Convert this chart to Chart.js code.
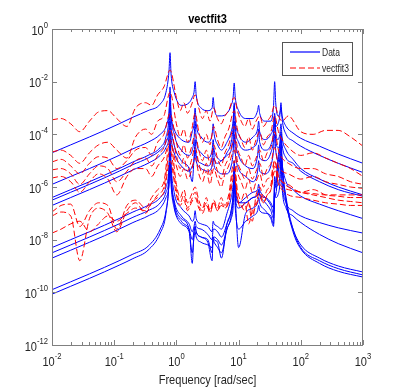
<!DOCTYPE html>
<html>
<head>
<meta charset="utf-8">
<script src="https://cdn.jsdelivr.net/npm/chart.js@4"></script>
<style>
  html, body { margin: 0; padding: 0; background: #fff; }
  canvas { display: block; }
</style>
</head>
<body>
<canvas id="c" width="402" height="388"></canvas>
<script>
// frequency grids (rad/sec), denser around the resonances
const freq = [0.01, 0.02, 0.04, 0.07, 0.12, 0.2, 0.35, 0.55, 0.68, 0.76,
  0.79, 0.82, 0.92, 1.2, 1.6, 1.8, 1.92, 2.0, 2.08, 2.5,
  3.2, 3.75, 3.9, 4.05, 4.6, 5.3, 6.5, 7.6, 8.16, 8.5,
  8.84, 10, 13, 17, 20.2, 21, 21.8, 27, 33, 36.5,
  38, 39.5, 43, 46, 48, 50, 58, 75, 100, 200,
  400, 1000];
const fitFreq = [0.01, 0.014, 0.02, 0.028, 0.04, 0.056, 0.079, 0.11, 0.16, 0.22,
  0.32, 0.4, 0.5, 0.63, 0.79,
  1.0, 1.15, 1.32, 1.51, 1.74, 2.0, 2.29, 2.63, 3.02, 3.47,
  3.98, 4.57, 5.25, 6.03, 6.92, 8.5, 9.55, 11.0, 12.6, 14.5,
  16.6, 19.1, 21.9, 25.1, 28.8, 33.1, 38, 43.7, 50.1,
  63, 100, 158, 251, 398, 631, 1000];

// Data curves, log10 of magnitude
const data1 = [-4.7, -4.4, -4.1, -3.85, -3.6, -3.35, -3.1, -2.85, -2.4, -1.6,
  -0.9, -1.7, -2.4, -2.9, -2.8, -2.6, -2.4, -2.0, -2.5, -3.0,
  -3.1, -3.0, -2.6, -3.0, -3.3, -3.3, -3.2, -2.9, -2.6, -2.05,
  -2.6, -3.1, -3.4, -3.4, -3.1, -2.9, -3.2, -3.5, -3.5, -2.9,
  -2.0, -2.8, -3.3, -3.2, -3.0, -3.3, -3.7, -3.95, -4.15, -4.45,
  -4.75, -5.1];
const data2 = [-5.9, -5.6, -5.3, -5.05, -4.8, -4.55, -4.3, -4.0, -3.7, -3.2,
  -2.7, -3.3, -3.8, -4.2, -4.3, -3.9, -3.6, -3.0, -3.6, -4.1,
  -4.3, -4.0, -3.6, -4.0, -4.4, -4.6, -4.3, -3.9, -3.5, -2.9,
  -3.5, -4.0, -4.3, -4.1, -3.8, -3.5, -3.9, -4.2, -4.0, -3.7,
  -3.3, -3.7, -3.6, -3.3, -2.8, -3.4, -4.0, -4.25, -4.45, -4.8,
  -5.1, -5.45];
const data3 = [-6.4, -6.1, -5.8, -5.55, -5.3, -5.05, -4.8, -4.5, -4.1, -3.3,
  -2.2, -3.2, -4.0, -4.6, -4.8, -4.6, -4.2, -3.5, -4.2, -4.7,
  -4.9, -4.6, -4.2, -4.6, -4.9, -5.0, -4.7, -4.3, -3.7, -2.8,
  -3.7, -4.3, -4.6, -4.5, -4.2, -3.8, -4.3, -4.6, -4.4, -3.9,
  -3.2, -3.9, -4.2, -4.0, -3.6, -4.1, -4.6, -4.95, -5.3, -5.7,
  -6.0, -6.3];
const data4 = [-6.5, -6.2, -5.9, -5.65, -5.4, -5.15, -4.9, -4.6, -4.3, -3.8,
  -3.0, -3.7, -4.4, -5.0, -5.3, -5.8, -4.9, -4.2, -4.8, -5.1,
  -5.2, -4.9, -4.5, -4.9, -5.1, -5.0, -4.8, -4.6, -4.2, -3.5,
  -4.2, -4.8, -5.2, -5.3, -4.8, -4.4, -4.9, -5.0, -4.7, -4.2,
  -3.6, -4.2, -4.5, -4.4, -3.9, -4.4, -4.9, -5.1, -5.4, -5.8,
  -6.1, -6.35];
const data5 = [-6.7, -6.4, -6.1, -5.85, -5.6, -5.35, -5.1, -4.8, -4.5, -4.1,
  -3.5, -4.1, -4.7, -5.2, -5.4, -5.2, -5.0, -4.6, -5.0, -5.3,
  -5.4, -5.2, -4.9, -5.2, -5.4, -5.5, -5.5, -5.2, -4.7, -4.0,
  -4.7, -5.3, -5.6, -5.8, -5.4, -5.0, -5.4, -5.5, -5.2, -4.6,
  -4.0, -4.6, -5.0, -5.0, -4.6, -5.1, -5.8, -6.1, -6.35, -6.65,
  -6.9, -7.2];
const data6 = [-8.3, -8.0, -7.7, -7.45, -7.2, -6.95, -6.7, -6.4, -6.0, -5.2,
  -3.9, -5.1, -6.2, -6.8, -7.1, -7.3, -7.2, -6.9, -7.2, -7.4,
  -7.5, -7.7, -7.3, -7.4, -7.5, -7.6, -7.0, -6.4, -5.9, -5.0,
  -5.9, -6.6, -6.6, -6.4, -6.3, -6.1, -6.3, -6.4, -6.6, -6.8,
  -5.6, -6.0, -5.9, -5.6, -4.8, -5.8, -6.6, -6.9, -7.1, -7.35,
  -7.55, -7.75];
const data7 = [-8.5, -8.2, -7.9, -7.65, -7.4, -7.15, -6.9, -6.6, -6.2, -5.6,
  -4.6, -5.6, -6.6, -7.2, -7.6, -8.9, -7.7, -7.5, -7.7, -7.9,
  -8.0, -8.5, -7.9, -8.0, -8.1, -8.7, -7.4, -6.9, -6.3, -5.6,
  -6.4, -8.3, -7.0, -6.8, -6.6, -6.4, -6.6, -6.9, -7.2, -7.5,
  -6.2, -6.4, -6.3, -5.9, -5.0, -6.0, -6.8, -7.1, -7.35, -7.8,
  -8.15, -8.5];
const data8 = [-8.7, -8.4, -8.1, -7.85, -7.6, -7.35, -7.1, -6.8, -6.4, -5.9,
  -5.0, -5.9, -6.8, -7.4, -7.7, -8.5, -7.9, -7.7, -7.9, -8.1,
  -8.2, -8.3, -8.0, -8.1, -8.3, -8.5, -7.6, -7.2, -6.8, -5.9,
  -6.8, -7.6, -7.3, -7.1, -6.9, -6.7, -6.9, -7.0, -7.1, -7.4,
  -6.4, -6.3, -5.5, -4.9, -4.4, -5.3, -6.6, -7.6, -8.2, -8.7,
  -9.0, -9.23];
const data9 = [-9.9, -9.6, -9.3, -9.05, -8.8, -8.55, -8.25, -7.6, -6.9, -5.8,
  -4.5, -5.6, -6.7, -7.3, -7.6, -8.0, -7.7, -7.5, -7.7, -7.9,
  -8.1, -8.8, -7.9, -7.9, -8.0, -8.2, -7.6, -7.1, -6.5, -5.6,
  -6.4, -6.8, -6.6, -6.4, -6.3, -6.1, -6.3, -6.6, -6.9, -7.2,
  -6.1, -6.0, -5.1, -4.6, -4.2, -5.1, -6.4, -7.6, -8.3, -8.8,
  -9.1, -9.34];
const data10 = [-10.07, -9.77, -9.47, -9.22, -8.97, -8.72, -8.4, -7.75, -7.0, -5.7,
  -4.3, -5.5, -6.5, -7.1, -7.4, -7.7, -7.5, -7.3, -7.5, -7.6,
  -7.8, -8.0, -7.6, -7.6, -7.7, -7.9, -7.4, -6.9, -6.3, -5.3,
  -6.2, -6.6, -6.4, -6.2, -6.1, -5.9, -6.1, -6.4, -6.7, -7.0,
  -5.9, -5.8, -4.9, -4.4, -4.0, -5.0, -6.5, -7.7, -8.35, -8.9,
  -9.2, -9.42];

// vectfit3 curves, log10 of magnitude
const fit1 = [-3.45, -3.4, -3.6, -3.9, -3.5, -3.15, -3.1, -3.4, -3.7, -3.0,
  -2.8, -2.9, -2.5, -2.2, -1.56,
  -2.6, -3.1, -2.8, -3.2, -2.9, -2.5, -3.0, -3.4, -3.1, -3.5,
  -3.0, -3.4, -3.6, -3.3, -3.1, -2.6, -3.1, -3.5, -3.7, -3.4,
  -3.8, -3.5, -3.3, -3.7, -3.5, -3.3, -2.9, -3.3, -3.5,
  -3.3, -3.9, -4.0, -3.85, -3.85, -4.1, -4.45];
const fit2 = [-4.67, -4.6, -4.8, -5.1, -4.7, -4.4, -4.3, -4.6, -4.9, -4.1,
  -3.8, -4.0, -3.5, -3.3, -2.4,
  -3.6, -4.1, -3.8, -4.3, -3.9, -3.2, -3.9, -4.3, -4.0, -4.4,
  -3.7, -4.2, -4.5, -4.1, -3.8, -3.1, -3.8, -4.2, -4.5, -4.1,
  -4.6, -4.2, -3.9, -4.4, -4.1, -3.9, -3.3, -3.9, -4.2,
  -4.5, -4.8, -4.7, -4.9, -5.1, -5.3, -5.6];
const fit3 = [-5.05, -4.95, -5.2, -5.5, -5.1, -4.85, -4.9, -5.3, -5.0, -4.6,
  -4.5, -4.8, -4.3, -4.0, -3.2,
  -4.3, -4.8, -4.4, -4.9, -4.5, -4.0, -4.6, -5.0, -4.6, -5.1,
  -4.4, -4.9, -5.2, -4.7, -4.4, -3.7, -4.5, -4.9, -5.2, -4.8,
  -5.2, -4.9, -4.6, -5.0, -4.7, -4.5, -3.9, -4.6, -4.9,
  -5.1, -5.3, -5.3, -5.5, -5.6, -5.8, -5.9];
const fit4 = [-5.35, -5.3, -5.5, -5.9, -5.5, -5.2, -5.3, -5.8, -5.4, -5.0,
  -4.9, -5.2, -4.8, -4.5, -3.8,
  -4.8, -5.3, -4.9, -5.4, -5.0, -4.5, -5.1, -5.5, -5.1, -5.6,
  -4.9, -5.4, -5.7, -5.2, -4.9, -4.2, -5.0, -5.4, -5.7, -5.3,
  -5.7, -5.4, -5.1, -5.6, -5.3, -5.1, -4.5, -5.2, -5.4,
  -5.5, -5.7, -5.6, -5.8, -5.9, -6.0, -6.05];
const fit5 = [-5.66, -5.6, -5.8, -6.2, -5.8, -5.5, -5.7, -6.3, -5.6, -5.3,
  -5.3, -5.6, -5.2, -4.9, -4.3,
  -5.2, -5.6, -5.3, -5.7, -5.4, -4.9, -5.5, -5.8, -5.4, -5.9,
  -5.3, -5.7, -6.0, -5.5, -5.2, -4.6, -5.4, -5.8, -6.1, -5.7,
  -6.2, -5.8, -5.5, -6.0, -5.7, -5.6, -5.0, -5.6, -5.8,
  -5.9, -6.2, -6.1, -6.3, -6.35, -6.4, -6.4];
const fit6 = [-6.95, -6.7, -6.65, -7.5, -6.9, -6.6, -6.7, -7.6, -6.7, -6.5,
  -6.8, -6.4, -6.1, -5.8, -4.2,
  -5.9, -6.4, -6.1, -6.6, -6.3, -6.0, -6.5, -6.8, -6.4, -6.9,
  -6.5, -6.8, -6.4, -6.7, -6.3, -5.0, -6.1, -6.5, -6.2, -6.6,
  -7.3, -6.3, -6.0, -6.4, -6.1, -5.9, -5.0, -5.6, -5.8,
  -6.0, -6.2, -6.3, -6.4, -6.5, -6.55, -6.6];
const fit7 = [-7.1, -6.95, -7.1, -8.8, -7.2, -6.8, -7.0, -7.7, -6.9, -6.6,
  -7.0, -6.6, -6.3, -6.0, -4.6,
  -6.1, -6.6, -6.3, -6.8, -6.5, -6.2, -6.7, -6.9, -6.6, -7.0,
  -6.6, -6.9, -6.6, -6.8, -6.5, -5.3, -6.4, -6.8, -6.6, -7.4,
  -6.9, -6.6, -6.2, -6.6, -6.3, -6.1, -5.2, -5.9, -6.1,
  -6.3, -6.4, -6.5, -6.6, -6.65, -6.7, -6.7];
const fit8 = [-7.75, -7.6, -7.4, -7.3, -7.7, -7.4, -7.1, -7.3, -7.0, -6.8,
  -6.9, -6.6, -6.4, -6.2, -5.0,
  -6.3, -6.7, -6.5, -6.9, -6.6, -6.4, -6.8, -7.0, -6.7, -6.9,
  -6.6, -6.9, -6.7, -6.8, -6.6, -5.6, -6.4, -6.7, -6.9, -6.6,
  -7.0, -6.7, -6.4, -6.6, -6.3, -6.1, -5.4, -5.8, -6.0,
  -6.1, -6.2, -6.25, -6.3, -6.3, -6.3, -6.3];

const dataSeries = [data1, data2, data3, data4, data5, data6, data7, data8, data9, data10];
const fitSeries = [fit1, fit2, fit3, fit4, fit5, fit6, fit7, fit8];

// axis ticks (decade exponents)
const xTickExps = [-2, -1, 0, 1, 2, 3];
const yTickExps = [0, -2, -4, -6, -8, -10, -12];
const legendLabels = ['Data', 'vectfit3'];

const BLUE = 'rgb(0,0,255)';
const RED = 'rgb(255,0,0)';
const AXIS = '#808080';
const TEXT = '#262626';
const FONT = '"Liberation Sans", Arial, sans-serif';
const SX = 0.85; // the figure text looks slightly squeezed

function drawText(ctx, s, x, y, size, bold, align) {
  ctx.save();
  ctx.font = (bold ? 'bold ' : '') + size + 'px ' + FONT;
  ctx.translate(x, y);
  ctx.scale(SX, 1);
  ctx.textAlign = align;
  ctx.textBaseline = 'alphabetic';
  ctx.fillText(s, 0, 0);
  ctx.restore();
}

function textWidth(ctx, s, size) {
  ctx.save();
  ctx.font = size + 'px ' + FONT;
  const w = ctx.measureText(s).width * SX;
  ctx.restore();
  return w;
}

// "10" with a raised exponent
function drawPow(ctx, e, x, y, mode) {
  const ex = String(e);
  const wb = textWidth(ctx, '10', 13);
  const we = textWidth(ctx, ex, 9);
  const left = mode === 'right' ? x - wb - we : x - (wb + we) / 2;
  drawText(ctx, '10', left, y, 13, false, 'left');
  drawText(ctx, ex, left + wb, y - 7, 9, false, 'left');
}

function line(ctx, color, x1, y1, x2, y2, width, dash) {
  ctx.save();
  ctx.strokeStyle = color;
  ctx.lineWidth = width || 1;
  ctx.setLineDash(dash || []);
  ctx.beginPath();
  ctx.moveTo(x1, y1);
  ctx.lineTo(x2, y2);
  ctx.stroke();
  ctx.restore();
}

const axesPlugin = {
  id: 'matlabAxes',
  afterDraw(chart) {
    const { ctx, chartArea: a, scales: { x, y } } = chart;
    ctx.save();
    ctx.strokeStyle = AXIS;
    ctx.lineWidth = 1;
    ctx.strokeRect(a.left + 0.5, a.top + 0.5, a.right - a.left - 1, a.bottom - a.top);

    // x ticks, major and minor, top and bottom
    xTickExps.forEach(d => {
      for (let m = 1; m <= 9; m++) {
        const v = m * Math.pow(10, d);
        if (v > 1000) break;
        const px = Math.round(x.getPixelForValue(v)) + 0.5;
        const len = m === 1 ? 5 : 3;
        line(ctx, AXIS, px, a.bottom, px, a.bottom - len);
        line(ctx, AXIS, px, a.top, px, a.top + len);
      }
    });
    yTickExps.forEach(e => {
      const py = Math.round(y.getPixelForValue(Math.pow(10, e))) + 0.5;
      line(ctx, AXIS, a.left, py, a.left + 5, py);
      line(ctx, AXIS, a.right, py, a.right - 5, py);
    });

    ctx.fillStyle = TEXT;
    xTickExps.forEach(d => {
      drawPow(ctx, d, x.getPixelForValue(Math.pow(10, d)), a.bottom + 21, 'center');
    });
    yTickExps.forEach(e => {
      drawPow(ctx, e, a.left - 4, y.getPixelForValue(Math.pow(10, e)) + 5.5, 'right');
    });

    drawText(ctx, 'Frequency [rad/sec]', (a.left + a.right) / 2, 384, 13, false, 'center');
    ctx.fillStyle = '#000';
    drawText(ctx, 'vectfit3', (a.left + a.right) / 2, 23, 13, true, 'center');

    // legend box
    ctx.fillStyle = '#fff';
    ctx.fillRect(282.5, 42.5, 70, 33);
    ctx.strokeStyle = '#555';
    ctx.strokeRect(282.5, 42.5, 70, 33);
    line(ctx, BLUE, 290, 52, 320, 52, 1.2);
    line(ctx, RED, 290, 68, 320, 68, 1.2, [6, 3]);
    ctx.fillStyle = TEXT;
    drawText(ctx, legendLabels[0], 322, 55.5, 10, false, 'left');
    drawText(ctx, legendLabels[1], 322, 71.5, 10, false, 'left');
    ctx.restore();
  }
};

// fit curves first so they are drawn over the data
const datasets = [];
fitSeries.forEach(s => datasets.push({
  data: s.map((v, i) => ({ x: fitFreq[i], y: Math.pow(10, v) })),
  borderColor: RED,
  borderWidth: 1,
  borderDash: [6, 3],
  cubicInterpolationMode: 'monotone'
}));
dataSeries.forEach(s => datasets.push({
  data: s.map((v, i) => ({ x: freq[i], y: Math.pow(10, v) })),
  borderColor: BLUE,
  borderWidth: 1,
  cubicInterpolationMode: 'monotone'
}));

new Chart(document.getElementById('c'), {
  type: 'line',
  data: { datasets },
  options: {
    responsive: false,
    animation: false,
    layout: { padding: { left: 52, right: 39, top: 29, bottom: 43 } },
    elements: { point: { radius: 0 } },
    scales: {
      x: { type: 'logarithmic', min: 0.01, max: 1000, display: false },
      y: { type: 'logarithmic', min: 1e-12, max: 1, display: false }
    },
    plugins: { legend: { display: false }, tooltip: { enabled: false } }
  },
  plugins: [axesPlugin]
});
</script>
</body>
</html>
